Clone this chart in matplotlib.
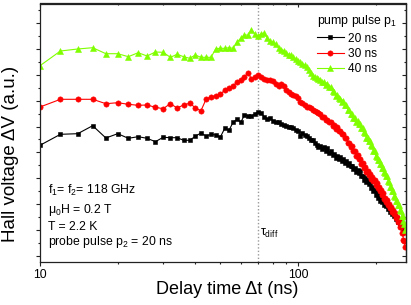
import numpy as np
import matplotlib
matplotlib.use('Agg')
import matplotlib.pyplot as plt
from matplotlib.ticker import MultipleLocator, FixedLocator, NullFormatter

plt.rcParams['font.family'] = ['Liberation Sans', 'DejaVu Sans']
plt.rcParams['mathtext.default'] = 'regular'

# ---------------- data ----------------
delay_ns = np.arange(10, 262, 2)          # delay time grid (ns), 2 ns steps

signal_20ns = [110.2, 121.2, 121.8, 129.8, 117.5, 121.8, 117.2, 118.8, 117.2, 113.8,
               118.2, 117.8, 117.8, 115.2, 115.2, 119.2, 122.5, 119.5, 121.2, 120.5,
               118.5, 127.2, 125.2, 133.2, 136.2, 133.2, 140.5, 139.8,
               139.5, 141.5, 144, 142.5, 138.5, 136.5, 137.5, 135, 133.5, 133.5,
               132, 130.5, 130, 128.5, 129, 127.5, 125.5, 124.5, 120, 122.5,
               120.5, 119.5, 117.5, 116, 115.5, 113, 110.5, 109,
               109.5, 106.5, 108.5, 105, 107.5, 103, 104.5, 101, 101.5, 98,
               99.5, 96.5, 98.5, 95, 96.5, 93, 94.5, 91, 92.5, 90,
               90, 86.5, 88, 84, 86, 82.5, 84.5, 79.5, 80, 76,
               77.5, 73.5, 75.5, 72, 72.5, 68, 69, 64.5, 66, 61,
               62.5, 58, 59.5, 55, 57, 53.5, 54.5, 51, 53, 49.5,
               50.5, 47, 48, 44, 46, 42, 44, 40, 41, 37,
               38, 34, 36, 32, 33.5, 30, 31, 26.5, 28, 25.5]

signal_30ns = [148.5, 156.2, 156.2, 156.2, 151.8, 152.8, 151.2, 150.2, 150.5, 148.2,
               146.8, 151.8, 147.5, 150.5, 152.2, 147.8, 144.5, 156.2, 158.8, 159.5,
               161.2, 165.5, 167.8, 169.5, 173.8, 175.5, 178.8, 182.8,
               176.5, 178.5, 181, 178.5, 177, 175.5, 176, 175, 171.5, 169.5,
               171.5, 169.5, 165.5, 163.5, 162, 161, 159.5, 157.5, 154, 152.5,
               150.5, 149, 148.5, 147.5, 146, 144.5, 144, 142.5,
               141.5, 138.5, 139, 136, 135.5, 133.5, 133.5, 129.5, 130.5, 127,
               128.5, 125, 124.5, 121.5, 121.5, 117.5, 117.5, 113, 112.5, 108.5,
               109.5, 104.5, 104.5, 100, 100.5, 97, 96.5, 92, 92.5, 87.5,
               88.5, 84, 84.5, 81, 81.5, 77, 78.5, 75, 75.5, 71,
               72.5, 68, 68.5, 65, 65.5, 61, 62.5, 57, 57.5, 54,
               55.5, 51, 51.5, 48, 48.5, 44, 45.5, 42, 42.5, 38,
               38.5, 34, 34.5, 29, 28.5, 23, 22.5, 16, 14.5, 8.5]

signal_40ns = [189.8, 204.5, 206.5, 207.8, 201.8, 201.8, 198.8, 202.8, 199.5, 203.5,
               203.2, 198.2, 201.2, 198.8, 197.2, 200.5, 198.2, 198.2, 198.2, 206.8,
               207.2, 207.2, 207.8, 207.2, 213.5, 217.2, 220.8, 220.2,
               226, 221.5, 219.5, 222, 222.5, 217.5, 214.5, 213.5, 211.5, 207.5,
               206, 205, 203, 201, 200.5, 198.5, 196.5, 194.5, 193.5, 192,
               190.5, 188.5, 185.5, 182.5, 179.5, 178.5, 178, 176.5,
               176, 173.5, 173.5, 170.5, 172, 168.5, 168.5, 164.5, 163.5, 160,
               161, 157.5, 157, 154, 154.5, 151, 150.5, 145.5, 145.5, 141.5,
               141.5, 137.5, 137.5, 133.5, 134.5, 131.5, 131.5, 127.5, 127.5, 123.5,
               123, 117.5, 117.5, 114.5, 114.5, 110.5, 109.5, 104.5, 104.5, 99.5,
               98.5, 95.5, 95.5, 91.5, 91.5, 87.5, 87.5, 83.5, 82.5, 79.5,
               79.5, 74.5, 73.5, 68.5, 68.5, 64.5, 64.5, 59.5, 58.5, 54.5,
               54.5, 50.5, 50.5, 45.5, 44.5, 39.5, 39.5, 34.5, 31.5, 25.5]

series_labels = ['20 ns', '30 ns', '40 ns']
tau_diff_ns = 70
x_tick_values = [10, 100]
x_tick_labels = ['10', '100']

# ---------------- figure ----------------
fig = plt.figure(figsize=(4.11, 3.05), dpi=100)
ax = fig.add_axes([40 / 411, 43 / 305, 366 / 411, 258.5 / 305])
ax.set_xscale('log')

styles = [dict(color='black', marker='s', ms=3.0),
          dict(color='#ff0000', marker='o', ms=3.8),
          dict(color='#80ff00', marker='^', ms=4.2)]
for sig, lab, st in zip([signal_20ns, signal_30ns, signal_40ns], series_labels, styles):
    ax.plot(delay_ns, sig, lw=0.8, mew=0.4, mec=st['color'], label=lab, **st)

ax.axvline(tau_diff_ns, color='#999999', ls=(0, (1, 1.5)), lw=1.0, zorder=0)

ax.set_xlim(10, 262)
ax.set_ylim(-6.5, 252)

# ticks
ax.xaxis.set_major_locator(FixedLocator(x_tick_values))
ax.set_xticklabels(x_tick_labels)
ax.xaxis.set_minor_locator(FixedLocator([20, 30, 40, 50, 60, 70, 80, 90, 200]))
ax.xaxis.set_minor_formatter(NullFormatter())
ax.yaxis.set_major_locator(MultipleLocator(25.8))
ax.yaxis.set_minor_locator(MultipleLocator(12.9))
ax.tick_params(axis='both', which='both', direction='out', width=0.8, colors='#222222',
               labelcolor='black')
ax.tick_params(axis='both', which='major', length=3.2, labelsize=8.8, pad=1.5)
ax.tick_params(axis='both', which='minor', length=1.7)
ax.tick_params(axis='y', labelleft=False)

secx = ax.secondary_xaxis('top')
secx.xaxis.set_major_locator(FixedLocator(x_tick_values))
secx.xaxis.set_minor_locator(FixedLocator([20, 30, 40, 50, 60, 70, 80, 90, 200]))
secx.tick_params(which='both', direction='in', width=0.8, labeltop=False, colors='#222222')
secx.tick_params(which='major', length=3.2)
secx.tick_params(which='minor', length=1.7)
secx.xaxis.set_minor_formatter(NullFormatter())
secx.xaxis.set_major_formatter(NullFormatter())

secy = ax.secondary_yaxis('right')
secy.yaxis.set_major_locator(MultipleLocator(25.8))
secy.yaxis.set_minor_locator(MultipleLocator(12.9))
secy.tick_params(which='both', direction='in', width=0.8, labelright=False, colors='#222222')
secy.tick_params(which='major', length=3.2)
secy.tick_params(which='minor', length=1.7)

for a in (ax, secx, secy):
    for sp in a.spines.values():
        sp.set_linewidth(0.9)
        sp.set_color('#222222')

# labels
fig.text(227 / 411, 1 - 290 / 305, 'Delay time \u0394t (ns)', ha='center', va='center', fontsize=13)
fig.text(11 / 411, 1 - 154 / 305, 'Hall voltage \u0394V (a.u.)', ha='center', va='center',
         rotation=90, fontsize=13.5)

# legend
leg = ax.legend(title='pump pulse p$_1$', loc='upper left', bbox_to_anchor=(0.756, 0.962),
                frameon=False, fontsize=8.6, title_fontsize=8.8, handlelength=2.3,
                handletextpad=0.3, labelspacing=0.28, borderpad=0, borderaxespad=0,
                alignment='left', markerscale=1.0)

# annotations
ann = ['f$_1$= f$_2$= 118 GHz', '\u03bc$_0$H = 0.2 T', 'T = 2.2 K', 'probe pulse p$_2$ = 20 ns']
baselines = [194, 212.5, 230.5, 245]
for s, b in zip(ann, baselines):
    ax.text(0.023, (262 - b) / 258.5, s, transform=ax.transAxes, fontsize=8.8, va='baseline')
ax.text(0.602, (262 - 236) / 258.5, '\u03c4$_{diff}$', transform=ax.transAxes, fontsize=8.8,
        va='baseline')

fig.savefig('out.png', dpi=100)
